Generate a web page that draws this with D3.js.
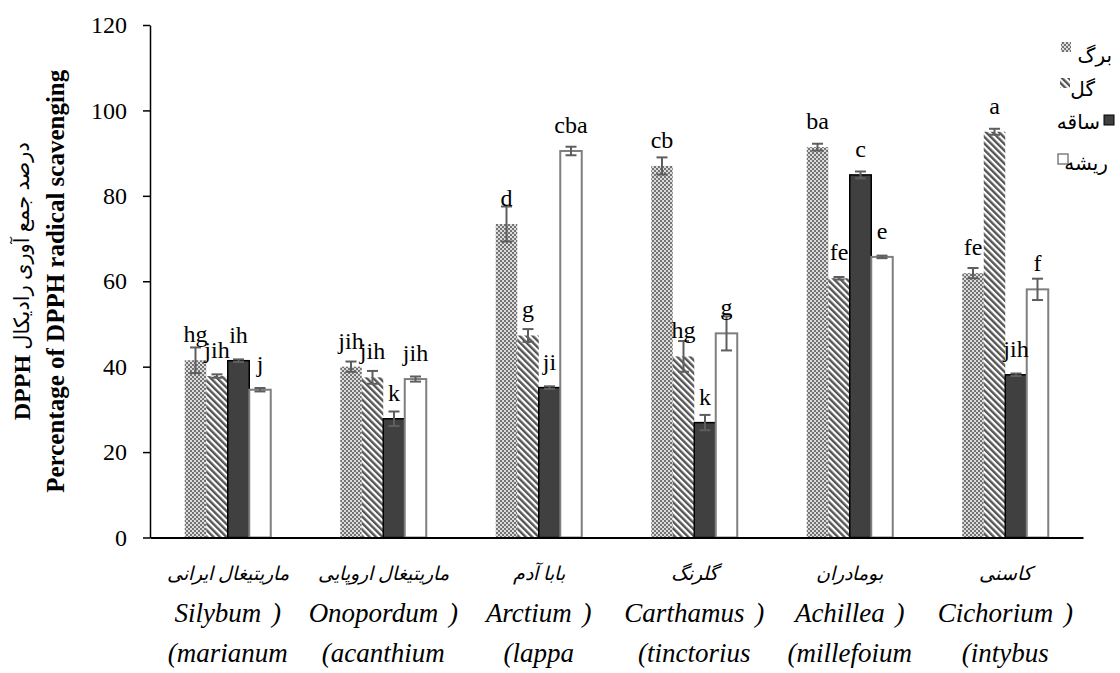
<!DOCTYPE html>
<html>
<head>
<meta charset="utf-8">
<script src="https://cdn.jsdelivr.net/npm/d3@7"></script>
<style>
  body { margin: 0; background: #fff; }
  svg { display: block; }
</style>
</head>
<body>
<svg id="chart" width="1120" height="673"></svg>
<script>
// Plant species (Persian name + Latin binomial split over two lines)
const categories = ["ماریتیغال ایرانی", "ماریتیغال اروپایی", "بابا آدم", "گلرنگ", "بومادران", "کاسنی"];
const latinLine1 = ["Silybum )", "Onopordum )", "Arctium )", "Carthamus )", "Achillea )", "Cichorium )"];
const latinLine2 = ["(marianum", "(acanthium", "(lappa", "(tinctorius", "(millefoium", "(intybus"];

// Plant organs: leaf, flower, stem, root
const seriesNames = ["برگ", "گل", "ساقه", "ریشه"];

// DPPH radical scavenging (%) per organ, one value per species
const leafValues   = [41.5, 40.0, 73.4, 87.0, 91.4, 61.9];
const flowerValues = [37.8, 37.5, 47.3, 42.4, 60.7, 95.0];
const stemValues   = [41.4, 27.8, 35.1, 26.9, 84.9, 38.1];
const rootValues   = [34.6, 37.1, 90.5, 47.8, 65.7, 58.1];

// Standard error per organ
const leafErrors   = [3.0, 1.2, 4.1, 2.0, 0.8, 1.2];
const flowerErrors = [0.4, 1.5, 1.5, 3.6, 0.3, 0.7];
const stemErrors   = [0.3, 1.7, 0.3, 1.8, 0.8, 0.3];
const rootErrors   = [0.4, 0.6, 1.0, 4.0, 0.3, 2.5];

// Duncan grouping letters
const leafLetters   = ["hg", "jih", "d", "cb", "ba", "fe"];
const flowerLetters = ["jih", "jih", "g", "hg", "fe", "a"];
const stemLetters   = ["ih", "k", "ji", "k", "c", "jih"];
const rootLetters   = ["j", "jih", "cba", "g", "e", "f"];

const yTicks = [0, 20, 40, 60, 80, 100, 120];

const series = [
  { key: "leaf",   name: seriesNames[0], values: leafValues,   errors: leafErrors,   letters: leafLetters },
  { key: "flower", name: seriesNames[1], values: flowerValues, errors: flowerErrors, letters: flowerLetters },
  { key: "stem",   name: seriesNames[2], values: stemValues,   errors: stemErrors,   letters: stemLetters },
  { key: "root",   name: seriesNames[3], values: rootValues,   errors: rootErrors,   letters: rootLetters }
];

const serif = "'Liberation Serif', 'Times New Roman', 'DejaVu Sans', serif";
const persian = "'Liberation Serif', 'DejaVu Sans', serif";

const fills = { leaf: "url(#pat-leaf)", flower: "url(#pat-flower)", stem: "#404040", root: "#ffffff" };
const strokes = { leaf: "none", flower: "none", stem: "#000000", root: "#7f7f7f" };
const strokeWidths = { leaf: 0, flower: 0, stem: 1.5, root: 2 };

const svg = d3.select("#chart");
const margin = { left: 150, right: 37, top: 25, bottom: 135.5 };
const W = 1120, H = 673;

const x0 = d3.scaleBand()
  .domain(categories)
  .range([margin.left, W - margin.right])
  .paddingInner(0.447)
  .paddingOuter(0.2235);

const x1 = d3.scaleBand()
  .domain(series.map(s => s.key))
  .range([0, x0.bandwidth()]);

const y = d3.scaleLinear().domain([0, 120]).range([H - margin.bottom, margin.top]);

// Fill patterns
const defs = svg.append("defs");
const pLeaf = defs.append("pattern").attr("id", "pat-leaf")
  .attr("patternUnits", "userSpaceOnUse").attr("width", 4).attr("height", 4);
pLeaf.append("rect").attr("width", 4).attr("height", 4).attr("fill", "#dcdcdc");
pLeaf.append("rect").attr("x", 0).attr("y", 0).attr("width", 2).attr("height", 2).attr("fill", "#737373");
pLeaf.append("rect").attr("x", 2).attr("y", 2).attr("width", 2).attr("height", 2).attr("fill", "#737373");

const pFlower = defs.append("pattern").attr("id", "pat-flower")
  .attr("patternUnits", "userSpaceOnUse").attr("width", 4.6).attr("height", 4.6)
  .attr("patternTransform", "rotate(-45)");
pFlower.append("rect").attr("width", 4.6).attr("height", 4.6).attr("fill", "#ffffff");
pFlower.append("rect").attr("width", 2.4).attr("height", 4.6).attr("fill", "#555555");

// Bars
const gBars = svg.append("g");
series.forEach(s => {
  gBars.append("g").selectAll("rect")
    .data(categories.map((c, i) => ({ c, v: s.values[i] })))
    .join("rect")
    .attr("x", d => x0(d.c) + x1(s.key))
    .attr("y", d => y(d.v))
    .attr("width", x1.bandwidth())
    .attr("height", d => y(0) - y(d.v))
    .attr("fill", fills[s.key])
    .attr("stroke", strokes[s.key])
    .attr("stroke-width", strokeWidths[s.key]);
});

// Error bars
const cap = 11;
const gErr = svg.append("g").attr("stroke", "#5e5e5e").attr("stroke-width", 2);
series.forEach(s => {
  categories.forEach((c, i) => {
    const cx = x0(c) + x1(s.key) + x1.bandwidth() / 2;
    const lo = y(s.values[i] - s.errors[i]);
    const hi = y(s.values[i] + s.errors[i]);
    gErr.append("line").attr("x1", cx).attr("x2", cx).attr("y1", lo).attr("y2", hi);
    gErr.append("line").attr("x1", cx - cap / 2).attr("x2", cx + cap / 2).attr("y1", lo).attr("y2", lo);
    gErr.append("line").attr("x1", cx - cap / 2).attr("x2", cx + cap / 2).attr("y1", hi).attr("y2", hi);
  });
});

// Grouping letters above each bar
const gLab = svg.append("g").attr("font-family", serif).attr("font-size", 24).attr("text-anchor", "middle");
series.forEach(s => {
  categories.forEach((c, i) => {
    gLab.append("text")
      .attr("x", x0(c) + x1(s.key) + x1.bandwidth() / 2)
      .attr("y", y(s.values[i]) - 18)
      .text(s.letters[i]);
  });
});

// Y axis
const yAxis = svg.append("g")
  .attr("transform", `translate(${margin.left},0)`)
  .call(d3.axisLeft(y).tickValues(yTicks).tickSize(7).tickSizeOuter(0).tickPadding(16));
yAxis.select(".domain").attr("stroke", "#000").attr("stroke-width", 1.5);
yAxis.selectAll(".tick line").attr("stroke", "#000").attr("stroke-width", 1.5);
yAxis.selectAll(".tick text").attr("font-family", serif).attr("font-size", 24).attr("fill", "#000");

// X axis (line only; labels drawn below)
const xAxis = svg.append("g")
  .attr("transform", `translate(0,${y(0)})`)
  .call(d3.axisBottom(x0).tickSize(0).tickSizeOuter(0).tickFormat(""));
xAxis.select(".domain").attr("stroke", "#000").attr("stroke-width", 2);

const gX = svg.append("g").attr("text-anchor", "middle").attr("font-style", "italic");
categories.forEach((c, i) => {
  const cx = x0(c) + x0.bandwidth() / 2;
  gX.append("text").attr("x", cx).attr("y", 580)
    .attr("font-family", persian).attr("font-size", 19).text(c);
  gX.append("text").attr("x", cx).attr("y", 622)
    .attr("font-family", serif).attr("font-size", 27).attr("word-spacing", 4).text(latinLine1[i]);
  gX.append("text").attr("x", cx).attr("y", 662)
    .attr("font-family", serif).attr("font-size", 27).text(latinLine2[i]);
});

// Y axis title (two rotated lines)
const t1 = svg.append("text")
  .attr("transform", `translate(22,${y(60)}) rotate(-90)`)
  .attr("text-anchor", "middle").attr("dominant-baseline", "central")
  .attr("font-family", persian).attr("font-size", 21);
t1.append("tspan").attr("font-weight", "bold").attr("font-family", serif).attr("font-size", 24).text("DPPH");
t1.append("tspan").text(" درصد جمع آوری رادیکال");

svg.append("text")
  .attr("transform", `translate(55,${y(60)}) rotate(-90)`)
  .attr("text-anchor", "middle").attr("dominant-baseline", "central")
  .attr("font-family", serif).attr("font-size", 25).attr("font-weight", "bold")
  .text("Percentage of DPPH radical scavenging");

// Legend
const legendRows = [
  { sx: 1061, sy: 42,  tx: 1112, ty: 62 },
  { sx: 1060, sy: 78,  tx: 1095, ty: 96 },
  { sx: 1104, sy: 115, tx: 1100, ty: 129 },
  { sx: 1058, sy: 154, tx: 1108, ty: 170 }
];
const gLeg = svg.append("g");
series.forEach((s, i) => {
  const r = legendRows[i];
  gLeg.append("rect").attr("x", r.sx).attr("y", r.sy).attr("width", 10).attr("height", 10)
    .attr("fill", fills[s.key]).attr("stroke", s.key === "stem" ? "#000" : (s.key === "root" ? "#7f7f7f" : "none"))
    .attr("stroke-width", s.key === "root" ? 1.5 : 1);
  gLeg.append("text").attr("x", r.tx).attr("y", r.ty).attr("text-anchor", "end")
    .attr("font-family", persian).attr("font-size", 20).text(s.name);
});
</script>
</body>
</html>
